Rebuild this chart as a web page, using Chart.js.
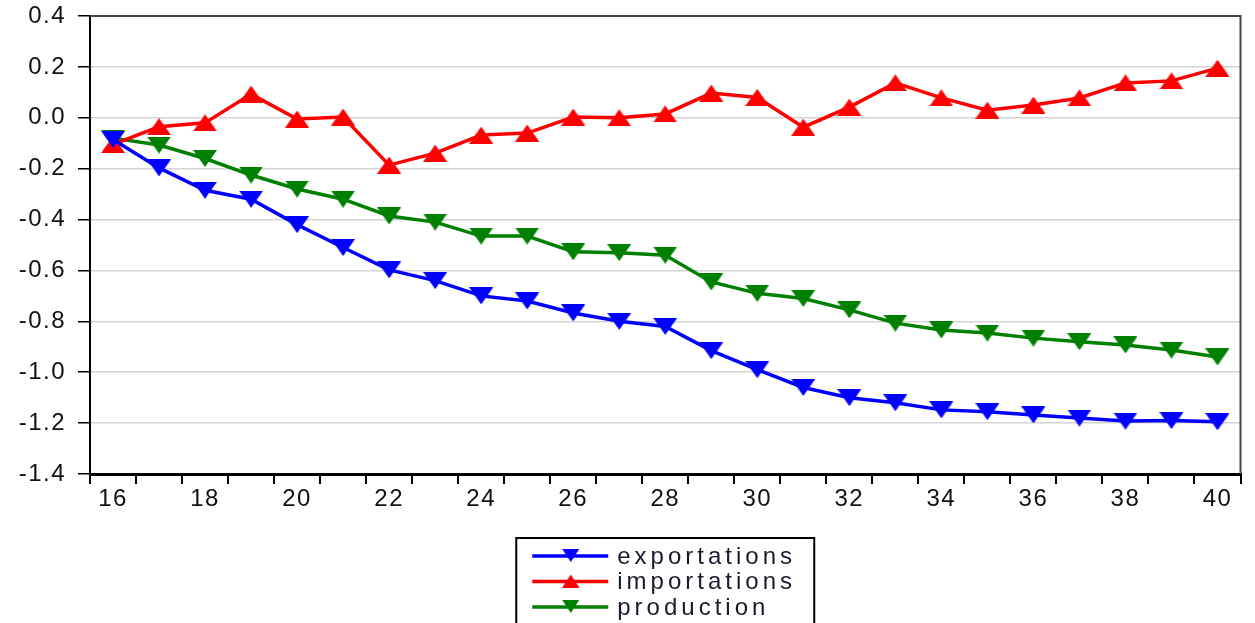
<!DOCTYPE html>
<html>
<head>
<meta charset="utf-8">
<script src="https://cdn.jsdelivr.net/npm/chart.js@4"></script>
<style>
  html, body { margin: 0; padding: 0; background: #fff; }
  canvas { display: block; }
</style>
</head>
<body>
<canvas id="chart" width="1255" height="623"></canvas>
<script>
// ── Data ──────────────────────────────────────────────────────────────────────
const periods = ["16", "17", "18", "19", "20", "21", "22", "23", "24", "25", "26", "27", "28",
                 "29", "30", "31", "32", "33", "34", "35", "36", "37", "38", "39", "40"];

const exportations = [-0.085, -0.197, -0.285, -0.32, -0.42, -0.51, -0.598, -0.64, -0.70, -0.72,
                      -0.767, -0.80, -0.82, -0.915, -0.99, -1.06, -1.10, -1.12, -1.148, -1.155,
                      -1.168, -1.18, -1.192, -1.19, -1.195];

const importations = [-0.105, -0.035, -0.02, 0.093, -0.005, 0.003, -0.186, -0.139, -0.068, -0.06,
                      0.003, 0.0, 0.015, 0.097, 0.08, -0.037, 0.042, 0.137, 0.078, 0.03,
                      0.05, 0.078, 0.137, 0.145, 0.195];

const production = [-0.08, -0.107, -0.16, -0.225, -0.28, -0.32, -0.386, -0.41, -0.465, -0.465,
                    -0.527, -0.53, -0.54, -0.645, -0.69, -0.71, -0.755, -0.807, -0.834, -0.846,
                    -0.866, -0.88, -0.893, -0.913, -0.94];

const yMin = -1.4;
const yMax = 0.4;
const yStep = 0.2;

// ── Marker images (flat triangles like the original) ─────────────────────────
function makeTriangle(color, up) {
    const c = document.createElement("canvas");
    c.width = 24;
    c.height = 17;
    const g = c.getContext("2d");
    g.fillStyle = color;
    g.beginPath();
    if (up) {
        g.moveTo(12, 0); g.lineTo(24, 17); g.lineTo(0, 17);
    } else {
        g.moveTo(0, 0); g.lineTo(24, 0); g.lineTo(12, 17);
    }
    g.closePath();
    g.fill();
    return c;
}

const BLUE = "#0000ff";
const RED = "#ff0000";
const GREEN = "#008000";

const markers = {
    exportations: makeTriangle(BLUE, false),
    importations: makeTriangle(RED, true),
    production: makeTriangle(GREEN, false),
};

const FONT = '"Liberation Sans", Arial, sans-serif';

// ── Plugins ───────────────────────────────────────────────────────────────────
// the original axis text is drawn a little loosely spaced
const spacing = {
    id: "spacing",
    beforeInit(chart) { chart.ctx.letterSpacing = "1.5px"; },
    beforeDraw(chart) { chart.ctx.letterSpacing = "1.5px"; }
};

const framePlugin = {
    id: "frame",
    beforeDatasetsDraw(chart) {
        const { ctx, chartArea: a } = chart;
        ctx.save();
        ctx.strokeStyle = "#444";
        ctx.lineWidth = 2;
        ctx.beginPath();
        ctx.moveTo(a.left, a.top);
        ctx.lineTo(a.right, a.top);
        ctx.lineTo(a.right, a.bottom);
        ctx.stroke();
        ctx.restore();
    }
};

const boxLegend = {
    id: "boxLegend",
    afterDraw(chart) {
        const { ctx, chartArea: a } = chart;
        const cx = (a.left + a.right) / 2;
        const boxLeft = cx - 149;
        const boxTop = a.bottom + 64;
        ctx.save();
        ctx.strokeStyle = "#000";
        ctx.lineWidth = 2;
        ctx.strokeRect(boxLeft, boxTop, 298, 120);

        chart.data.datasets.forEach((ds, i) => {
            const y = boxTop + 18 + i * 25.5;
            const x0 = boxLeft + 16;
            ctx.strokeStyle = ds.borderColor;
            ctx.lineWidth = 3.5;
            ctx.beginPath();
            ctx.moveTo(x0, y);
            ctx.lineTo(x0 + 76, y);
            ctx.stroke();
            ctx.drawImage(ds.pointStyle, x0 + 38 - 8, y - 7, 17, 13);
            ctx.fillStyle = "#1a1a2e";
            ctx.font = "24px " + FONT;
            ctx.letterSpacing = "4px";
            ctx.textBaseline = "middle";
            ctx.textAlign = "left";
            ctx.fillText(ds.label, x0 + 85, y + 1);
        });
        ctx.restore();
    }
};

// ── Chart ─────────────────────────────────────────────────────────────────────
function lineSet(label, data, color) {
    return {
        label,
        data,
        borderColor: color,
        backgroundColor: color,
        borderWidth: 3.5,
        pointStyle: markers[label],
        pointRadius: 11,
        tension: 0,
    };
}

new Chart(document.getElementById("chart"), {
    type: "line",
    data: {
        labels: periods,
        datasets: [
            lineSet("exportations", exportations, BLUE),
            lineSet("importations", importations, RED),
            lineSet("production", production, GREEN),
        ]
    },
    options: {
        responsive: false,
        animation: false,
        layout: { padding: { top: 16, right: 7, left: 0, bottom: 0 } },
        plugins: {
            legend: { display: false },
            tooltip: { enabled: false },
        },
        scales: {
            x: {
                offset: true,
                grid: {
                    offset: true,
                    drawOnChartArea: false,
                    drawTicks: true,
                    tickLength: 10,
                    tickColor: "#000",
                    lineWidth: 2,
                },
                border: { display: true, color: "#000", width: 3 },
                ticks: {
                    autoSkip: false,
                    maxRotation: 0,
                    padding: 1,
                    color: "#111",
                    font: { family: FONT, size: 24 },
                    callback: function (val, idx) {
                        return idx % 2 === 0 ? this.getLabelForValue(val) : "";
                    }
                },
                afterFit(scale) {
                    scale.height = 149;
                    scale.paddingLeft = 0;
                    scale.paddingRight = 0;
                }
            },
            y: {
                min: yMin,
                max: yMax,
                grid: {
                    color: "#d4d4d4",
                    lineWidth: 1.5,
                    tickLength: 12,
                    tickColor: "#000",
                },
                border: { display: true, color: "#000", width: 2 },
                ticks: {
                    stepSize: yStep,
                    padding: 12,
                    color: "#111",
                    font: { family: FONT, size: 24 },
                    callback: v => v.toFixed(1)
                },
                afterFit(scale) {
                    scale.width = 90;
                    scale.paddingTop = 0;
                    scale.paddingBottom = 0;
                }
            }
        }
    },
    plugins: [spacing, framePlugin, boxLegend]
});
</script>
</body>
</html>
